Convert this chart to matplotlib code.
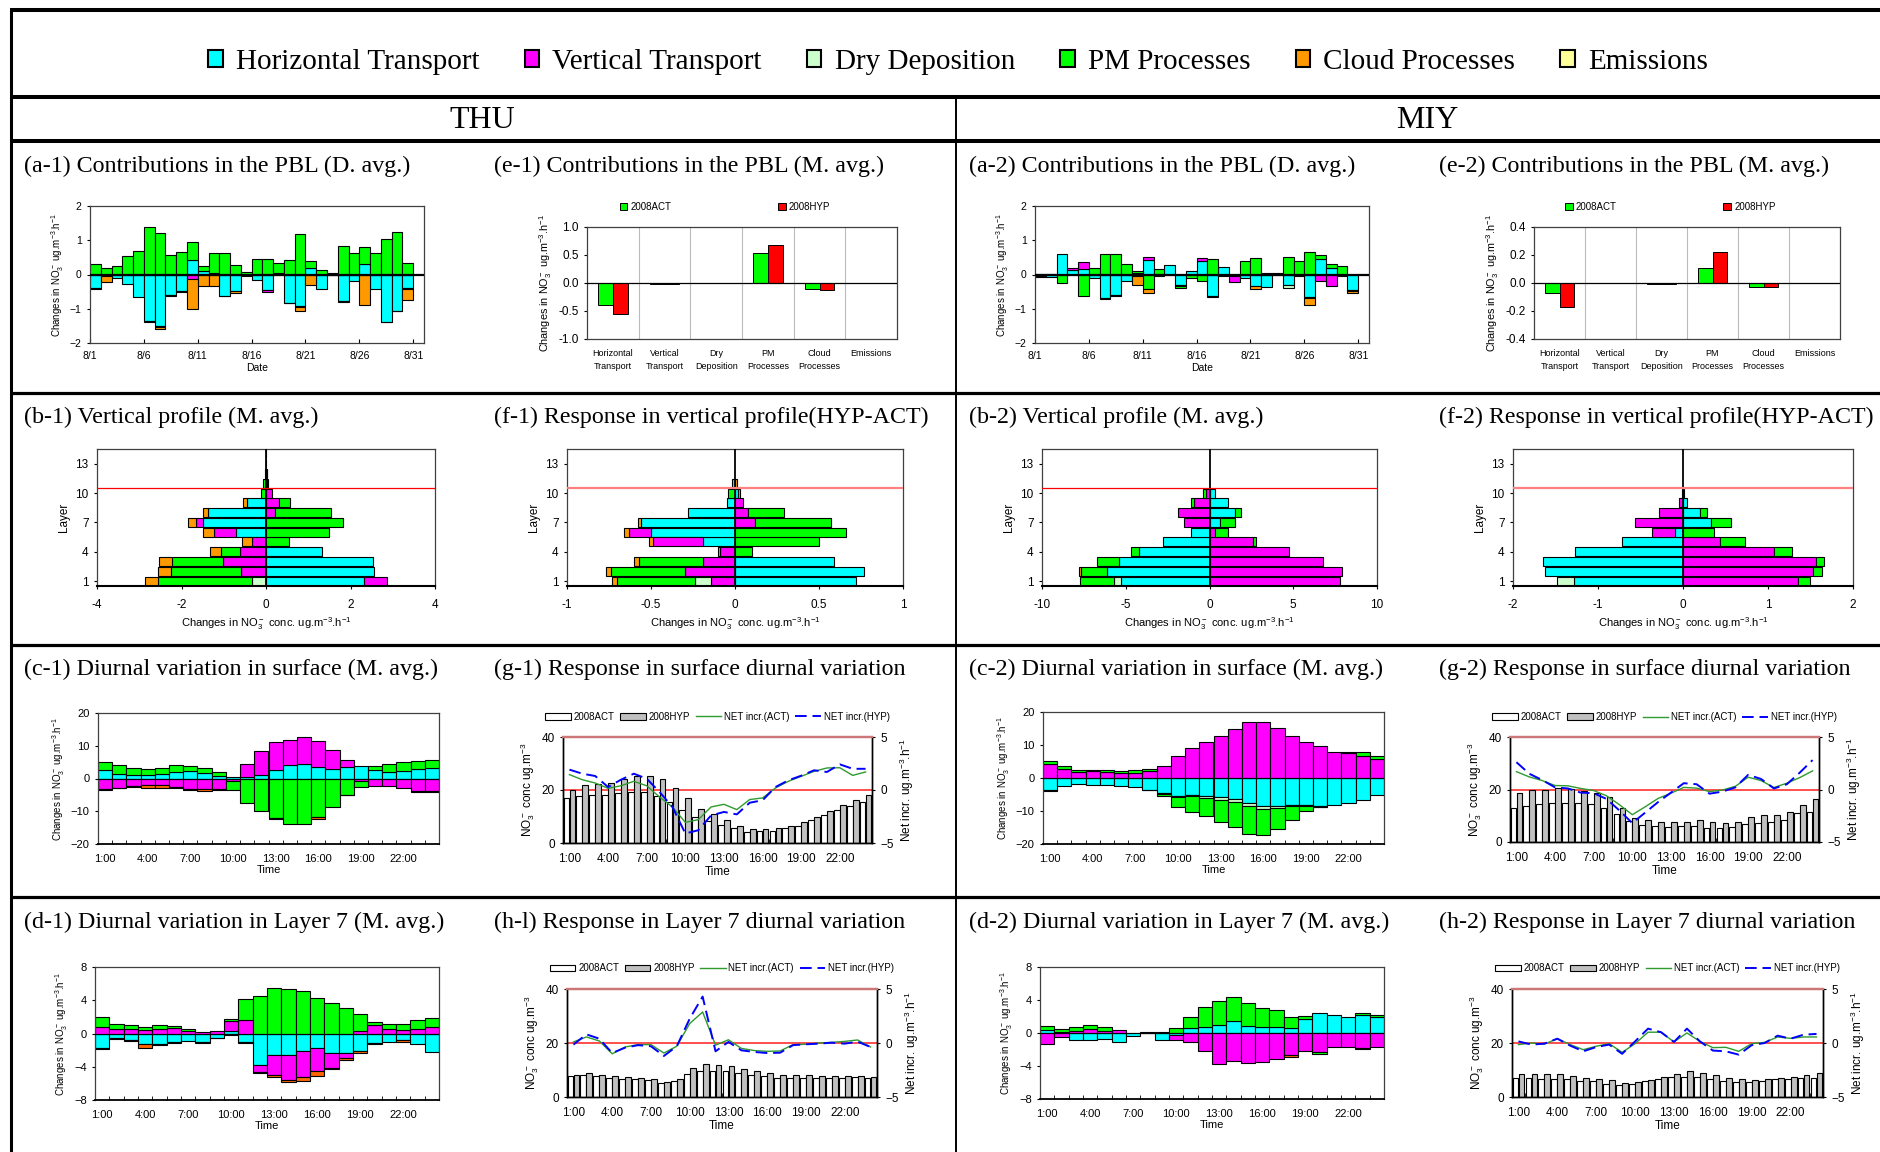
import numpy as np
import matplotlib
matplotlib.use('Agg')
import matplotlib.pyplot as plt
import matplotlib.patches as mpatches
from matplotlib.lines import Line2D
from matplotlib.ticker import FuncFormatter

plt.rcParams['font.family'] = ['Liberation Sans', 'DejaVu Sans']
plt.rcParams['mathtext.default'] = 'regular'
SERIF = 'Liberation Serif'

# ---------------- data ----------------
process_names = ['Horizontal Transport', 'Vertical Transport', 'Dry Deposition',
                 'PM Processes', 'Cloud Processes', 'Emissions']
process_ticks = ['Horizontal\nTransport', 'Vertical\nTransport', 'Dry\nDeposition',
                 'PM\nProcesses', 'Cloud\nProcesses', 'Emissions\n ']
day_labels = ['8/1', '8/6', '8/11', '8/16', '8/21', '8/26', '8/31']
hour_labels = ['1:00', '4:00', '7:00', '10:00', '13:00', '16:00', '19:00', '22:00']

# (a-1) THU daily PBL contributions, 8/1 .. 8/30
a1_hor = [-0.40, -0.03, -0.10, -0.27, -0.65, -1.37, -1.50, -0.60, -0.47, 0.43, 0.10, 0.03, -0.62, -0.48, -0.03,
          -0.15, -0.45, 0.05, -0.82, -0.92, 0.20, -0.42, -0.02, -0.76, -0.18, 0.30, -0.42, -1.38, -1.06, -0.38]
a1_vert = [0, 0, 0, 0, 0, 0, 0, 0, -0.04, -0.12, 0, 0, 0, 0, 0,
           0, -0.05, 0, 0, -0.04, 0, 0, 0, 0, 0, 0, 0, 0, 0, -0.05]
a1_dry = [-0.02, 0, 0, 0, 0, -0.03, -0.02, -0.02, 0, 0, 0, 0, -0.02, 0, 0,
          0, 0, 0, -0.02, 0, 0, 0, 0, -0.05, 0, 0, 0, -0.02, -0.02, 0]
a1_pm = [0.32, 0.18, 0.26, 0.53, 0.68, 1.40, 1.22, 0.58, 0.67, 0.53, 0.14, 0.61, 0.62, 0.28, 0.08,
         0.45, 0.45, 0.30, 0.43, 1.17, 0.18, 0.12, 0.04, 0.84, 0.64, 0.50, 0.64, 1.05, 1.23, 0.35]
a1_cld = [0, -0.19, 0, 0, 0, 0, -0.06, 0, 0, -0.88, -0.35, -0.35, 0, -0.06, 0,
          0, 0, 0, 0, -0.10, -0.30, 0, 0, 0, 0, -0.88, 0, 0, 0, -0.30]

# (a-2) MIY daily PBL contributions
a2_hor = [-0.04, -0.08, 0.60, 0.13, 0.15, -0.10, -0.68, -0.60, -0.20, -0.05, 0.42, 0.02, 0.28, -0.32, 0.10,
          0.38, -0.62, 0.22, -0.05, -0.10, -0.35, -0.37, 0.05, -0.30, -0.05, -0.65, 0.45, 0.20, -0.05, -0.45]
a2_vert = [0, 0, 0, 0.05, 0.22, 0, 0, 0, 0, 0.05, 0.08, 0, 0, 0, 0,
           0.10, 0, -0.05, -0.18, 0, 0, 0, 0, 0, 0, 0, -0.20, -0.33, 0, 0]
a2_dry = [-0.02, 0, -0.02, 0, 0, 0, -0.04, -0.02, 0, 0, 0, 0, 0, -0.03, 0,
          0, -0.03, 0, 0, 0, 0, 0, 0, -0.10, 0, -0.05, 0, 0, 0, -0.03]
a2_pm = [0.02, 0.02, -0.22, 0, -0.62, 0.20, 0.60, 0.60, 0.30, 0.05, -0.42, 0.15, 0, -0.05, -0.10,
         -0.20, 0.45, 0, 0, 0.38, 0.48, 0.05, 0, 0.50, 0.38, 0.65, 0.13, 0.10, 0.25, 0]
a2_cld = [0, 0, 0, 0, 0, 0, 0, 0, 0, -0.25, -0.13, -0.05, 0, 0, 0,
          0, 0, 0, 0, 0, -0.07, 0, 0, 0, 0, -0.20, 0, 0, 0, -0.05]

# (e) monthly PBL contributions per process
e1_act = [-0.40, -0.02, 0.0, 0.54, -0.10, 0.0]
e1_hyp = [-0.55, -0.02, 0.0, 0.68, -0.12, 0.0]
e2_act = [-0.07, 0.0, -0.005, 0.11, -0.03, 0.0]
e2_hyp = [-0.17, 0.0, -0.005, 0.22, -0.03, 0.0]

# (b) vertical profiles, layers 1..14
b1_hor = [2.33, 2.55, 2.53, 1.33, 0, -0.70, -1.50, -1.37, -0.45, 0, 0, 0, 0, 0]
b1_vert = [0.54, -0.60, -1.02, -0.61, -0.33, -0.54, -0.15, 0.22, 0.30, 0.14, 0.03, 0.02, 0.01, 0.01]
b1_dry = [-0.33, 0, 0, 0, 0, 0, 0, 0, 0, 0, 0, 0, 0, 0]
b1_pm = [-2.23, -1.65, -1.20, -0.45, 0.55, 1.48, 1.83, 1.31, 0.26, -0.13, -0.07, -0.03, 0, 0]
b1_cld = [-0.31, -0.30, -0.31, -0.27, -0.23, -0.24, -0.20, -0.13, -0.09, 0, 0.02, 0.01, 0, 0]

b2_hor = [-5.26, -6.14, -5.40, -4.20, -2.80, -1.10, 0.60, 1.50, 1.10, 0.35, 0, 0, 0, 0]
b2_vert = [7.79, 7.90, 6.80, 4.74, 2.60, 0.30, -1.50, -1.90, -0.90, -0.20, 0, 0, 0, 0]
b2_dry = [-0.46, 0, 0, 0, 0, 0, 0, 0, 0, 0, 0, 0, 0, 0]
b2_pm = [-2.00, -1.56, -1.30, -0.50, 0.20, 0.80, 0.90, 0.40, -0.20, -0.20, 0, 0, 0, 0]
b2_cld = [0, -0.10, 0, 0, 0, 0, 0, 0, 0, 0, 0, 0, 0, 0]

# (f) response in vertical profile (HYP-ACT)
f1_hor = [0.72, 0.77, 0.59, 0, -0.19, -0.50, -0.56, -0.28, -0.05, 0.02, -0.02, 0, 0, 0]
f1_vert = [-0.14, -0.30, -0.19, -0.09, -0.30, -0.13, 0.12, 0.08, 0.05, 0, 0, 0, 0, 0]
f1_dry = [-0.10, 0, 0, 0, 0, 0, 0, 0, 0, 0, 0, 0, 0, 0]
f1_pm = [-0.46, -0.44, -0.38, 0.10, 0.50, 0.66, 0.45, 0.21, 0, -0.04, 0, 0, 0, 0]
f1_cld = [-0.03, -0.03, -0.03, -0.01, -0.02, -0.03, -0.02, 0, 0, 0.01, 0.01, 0, 0, 0]

f2_hor = [-1.28, -1.62, -1.65, -1.27, -0.72, -0.09, 0.33, 0.20, 0.05, 0.01, 0, 0, 0, 0]
f2_vert = [1.35, 1.53, 1.57, 1.07, 0.44, -0.27, -0.56, -0.28, -0.05, -0.01, 0, 0, 0, 0]
f2_dry = [-0.20, 0, 0, 0, 0, 0, 0, 0, 0, 0, 0, 0, 0, 0]
f2_pm = [0.14, 0.10, 0.09, 0.21, 0.29, 0.37, 0.23, 0.08, 0, 0, 0, 0, 0, 0]

# (c) surface diurnal variation, hours 1..24
c1_hor = [2.6, 1.5, 1.2, 1.2, 1.5, 2.0, 2.3, 1.6, 0.8, 0.5, 0.5, 1.2,
          2.7, 4.1, 4.4, 3.5, 2.8, 3.5, 3.8, 2.6, 2.0, 2.4, 2.9, 3.2]
c1_vert = [-3.3, -2.9, -2.4, -2.1, -2.1, -2.6, -3.1, -3.1, -3.1, -0.8, 4.0, 7.2,
           8.5, 7.8, 8.4, 8.1, 6.0, 2.2, -0.7, -2.4, -2.4, -2.9, -3.9, -3.8]
c1_pm = [2.4, 2.5, 2.0, 1.6, 1.8, 2.0, 1.6, 1.7, 1.1, -2.7, -7.4, -10.0,
         -12.0, -13.8, -13.8, -11.7, -8.8, -5.0, -1.8, 1.3, 2.5, 2.6, 2.4, 2.4]
c1_cld = [-0.2, -0.1, -0.1, -0.7, -0.9, -0.3, -0.3, -0.6, -0.3, 0, 0, 0,
          -0.4, 0, 0, -0.8, 0, -0.1, 0, 0, 0, 0, -0.1, -0.2]

c2_hor = [-3.5, -2.4, -1.9, -2.1, -2.1, -2.4, -2.8, -3.5, -4.6, -5.6, -5.0, -5.5,
          -5.8, -6.5, -7.7, -8.6, -8.4, -8.1, -8.2, -8.5, -8.3, -7.6, -6.7, -5.0]
c2_vert = [4.2, 2.7, 1.8, 2.0, 1.9, 1.4, 1.6, 2.0, 3.6, 6.7, 9.0, 10.9,
           12.8, 15.0, 17.1, 17.1, 15.1, 12.6, 11.0, 9.7, 8.0, 7.5, 6.7, 5.8]
c2_dry = [-0.3, 0, 0, 0, 0, 0, 0, -0.1, -0.3, -0.3, -0.6, -0.6,
          -0.9, -0.9, -0.9, -0.9, -0.8, -0.5, -0.3, -0.2, 0, 0, 0, 0]
c2_pm = [1.1, 0.9, 0.7, 0.5, 0.5, 0.7, 0.8, 0.6, -0.6, -2.9, -4.7, -5.4,
         -6.5, -7.3, -8.4, -7.8, -6.2, -4.2, -1.5, -0.2, 0, 0.5, 1.1, 1.0]

# (d) Layer 7 diurnal variation
d1_hor = [-1.8, -0.6, -0.8, -1.3, -1.3, -1.0, -0.9, -1.0, -0.5, 0.3, -1.0, -3.8,
          -2.6, -2.6, -2.1, -1.7, -2.4, -2.3, -2.1, -1.1, -1.0, -0.8, -1.3, -2.2]
d1_vert = [0.8, 0.6, 0.5, 0.4, 0.5, 0.7, 0.3, 0.2, 0.25, 1.2, 1.6, -0.8,
           -2.4, -3.0, -3.1, -2.8, -1.7, -0.6, 0.3, 1.0, 0.5, 0.4, 0.6, 0.8]
d1_pm = [1.2, 0.6, 0.5, 0.4, 0.5, 0.2, 0.3, 0, 0, 0.3, 2.5, 4.5,
         5.5, 5.4, 5.1, 4.3, 3.7, 3.1, 2.0, 0.4, 0.6, 0.8, 1.0, 1.1]
d1_cld = [-0.1, -0.1, -0.1, -0.4, -0.1, -0.1, 0, -0.1, -0.1, -0.15, -0.2, -0.15,
          -0.2, -0.2, -0.5, -0.6, -0.2, -0.3, -0.3, -0.2, 0, -0.2, 0, 0]

d2_hor = [0.4, 0.1, -0.9, -0.8, -0.7, -1.1, -0.4, 0.05, -0.9, -0.3, 0.6, 0.7,
          1.0, 1.5, 0.9, 0.7, 0.7, 0.6, 1.7, 2.4, 2.2, 2.0, 2.2, 2.0]
d2_vert = [-1.3, -0.5, 0.3, 0.5, 0.3, 0.4, 0, 0, 0, -0.5, -1.1, -2.2,
           -3.8, -3.4, -3.6, -3.5, -3.2, -2.7, -2.2, -2.3, -1.7, -1.7, -1.8, -1.7]
d2_pm = [0.5, 0.4, 0.4, 0.5, 0.4, 0, 0, 0.05, 0.1, 0.6, 1.4, 2.4,
         2.9, 2.9, 2.7, 2.3, 2.1, 1.4, 0.4, -0.2, 0, 0, 0.2, 0.2]
d2_cld = [0, 0, 0, 0, 0, 0, 0, 0, 0, 0, 0, 0,
          0, 0, 0, 0, 0, -0.2, 0, 0, 0, 0, -0.1, 0]

# (g) surface concentration (bars) and net increase (lines)
g1_act = [17.1, 17.6, 18.0, 18.1, 18.8, 19.3, 19.3, 17.9, 15.4, 12.5, 9.8, 8.4,
          6.8, 5.5, 4.3, 4.4, 4.5, 5.5, 6.6, 8.5, 10.7, 12.3, 13.8, 15.3]
g1_hyp = [20.1, 21.8, 22.4, 22.8, 24.0, 25.1, 25.3, 24.1, 20.7, 16.9, 13.0, 10.8,
          8.5, 6.5, 5.4, 5.3, 5.6, 6.6, 8.0, 9.9, 12.0, 14.2, 16.1, 18.0]
g1_net_act = [1.45, 0.97, 0.66, 0.16, 0.40, 0.82, 0.40, -0.66, -1.60, -3.05, -2.80, -1.60,
              -1.35, -1.85, -0.90, -0.75, 0.19, 0.82, 1.29, 1.76, 2.08, 2.10, 1.38, 1.70]
g1_net_hyp = [1.92, 1.54, 1.32, 0.28, 0.97, 1.54, 1.07, -0.19, -1.60, -4.10, -3.80, -2.40,
              -2.07, -2.30, -1.20, -0.97, 0.28, 0.91, 1.35, 1.86, 1.70, 2.42, 2.00, 2.00]

g2_act = [13.0, 13.8, 14.3, 14.8, 14.8, 14.8, 14.3, 13.0, 10.5, 8.0, 6.5, 6.0,
          5.8, 6.0, 6.0, 5.5, 5.5, 5.8, 6.9, 7.2, 7.5, 8.2, 11.2, 11.5]
g2_hyp = [18.5, 20.0, 20.0, 20.5, 20.3, 19.5, 18.5, 17.2, 13.0, 9.0, 8.4, 7.6,
          7.6, 7.8, 8.2, 7.5, 7.2, 7.8, 9.4, 10.2, 10.2, 11.6, 14.0, 16.5]
g2_net_act = [1.70, 1.20, 0.85, 0.38, 0.35, 0.10, -0.10, -0.60, -1.45, -2.40, -1.65, -0.85,
              -0.35, 0.20, 0.13, -0.20, -0.05, 0.30, 1.17, 0.85, 0.19, 0.60, 1.13, 1.77]
g2_net_hyp = [2.60, 1.50, 0.90, 0.20, 0.10, -0.30, -0.35, -0.90, -2.00, -3.20, -2.20, -1.20,
              -0.30, 0.60, 0.50, -0.40, -0.20, 0.20, 1.40, 1.00, 0.10, 0.50, 1.60, 2.80]

# (h) Layer 7 concentration and net increase
h1_act = [7.7, 8.0, 7.6, 7.0, 6.8, 6.6, 6.3, 5.3, 6.0, 8.5, 9.5, 9.8,
          9.8, 9.0, 8.1, 7.7, 7.2, 7.0, 7.0, 7.0, 7.1, 7.1, 7.3, 7.0]
h1_hyp = [8.0, 8.8, 8.2, 7.6, 7.3, 7.1, 6.6, 5.5, 6.6, 10.6, 12.1, 11.7,
          11.3, 10.5, 9.5, 9.0, 8.0, 8.0, 8.0, 7.8, 7.8, 7.8, 7.8, 7.3]
h1_net_act = [0.10, 0.56, 0.19, -1.00, -0.37, -0.15, -0.15, -0.93, -0.30, 1.80, 2.87, -0.20,
              0.30, -0.50, -0.70, -0.77, -0.74, -0.15, -0.12, 0.00, 0.06, 0.15, 0.28, -0.37]
h1_net_hyp = [-0.15, 0.80, 0.40, -0.93, -0.43, -0.20, -0.30, -1.20, -0.30, 2.25, 4.30, -0.77,
              0.10, -0.68, -0.83, -0.93, -0.90, -0.20, -0.12, -0.06, 0.03, -0.06, 0.12, -0.37]

h2_act = [7.0, 7.0, 6.8, 6.8, 6.5, 5.8, 5.8, 5.0, 4.3, 5.0, 5.8, 6.8,
          7.3, 7.5, 7.5, 6.5, 5.8, 5.5, 5.5, 6.0, 6.5, 6.8, 7.0, 7.0]
h2_hyp = [8.5, 8.4, 8.5, 8.5, 7.8, 7.0, 6.5, 6.3, 5.1, 5.5, 6.3, 7.3,
          8.5, 9.5, 9.0, 8.0, 7.0, 6.5, 6.3, 6.8, 7.0, 7.3, 8.2, 8.8]
h2_net_act = [-0.15, 0.00, -0.10, 0.40, -0.15, -0.62, -0.30, -0.06, -0.87, -0.06, 1.00, 1.00,
              0.10, 0.93, 0.15, -0.43, -0.40, -0.77, -0.06, 0.06, 0.56, 0.43, 0.56, 0.56]
h2_net_hyp = [0.15, -0.15, -0.06, 0.40, -0.25, -0.77, -0.37, -0.15, -1.00, 0.15, 1.33, 1.00,
              0.10, 1.33, 0.15, -0.70, -0.77, -1.08, -0.20, 0.00, 0.68, 0.40, 0.77, 0.84]

# ---------------- style ----------------
HOR, VERT, DRY, PM, CLD, EMI = '#00FFFF', '#FF00FF', '#CCFFCC', '#00FF00', '#FF9900', '#FFFF99'
CLD_D = '#FF6600'
FRAME = '#404040'
NO3_RATE = 'Changes in NO$_3^-$ ug.m$^{-3}$.h$^{-1}$'
NO3_CONC = 'Changes in NO$_3^-$ conc. ug.m$^{-3}$.h$^{-1}$'

W, H = 1880, 1152
fig = plt.figure(figsize=(W / 100, H / 100), dpi=100)


def box(x0, y0, x1, y1):
    return [x0 / W, 1 - y1 / H, (x1 - x0) / W, (y1 - y0) / H]


def fline(x0, y0, x1, y1, lw):
    fig.add_artist(Line2D([x0 / W, x1 / W], [1 - y0 / H, 1 - y1 / H], color='black',
                          lw=lw, transform=fig.transFigure, solid_capstyle='butt'))


def frame(ax, lw=0.9):
    for s in ax.spines.values():
        s.set_color(FRAME)
        s.set_linewidth(lw)


def stack_bars(ax, pos, layers, width, horiz=False):
    pos = np.asarray(pos, float)
    up = np.zeros(len(pos))
    dn = np.zeros(len(pos))
    for vals, col in layers:
        v = np.asarray(vals, float)
        for base, m in ((up, v > 0), (dn, v < 0)):
            if not m.any():
                continue
            if horiz:
                ax.barh(pos[m], v[m], height=width, left=base[m], color=col,
                        edgecolor='black', linewidth=0.8, zorder=2)
            else:
                ax.bar(pos[m], v[m], width=width, bottom=base[m], color=col,
                       edgecolor='black', linewidth=0.8, zorder=2)
            base[m] += v[m]


def daily_panel(ax, layers):
    x = np.arange(len(layers[0][0])) + 0.5
    stack_bars(ax, x, layers, 1.0)
    ax.axhline(0, color='black', lw=1.6, zorder=3)
    ax.set_xlim(0, 31)
    ax.set_ylim(-2, 2)
    ax.set_xticks(np.arange(0, 31, 5))
    ax.set_xticklabels(day_labels)
    ax.set_yticks([-2, -1, 0, 1, 2])
    ax.tick_params(labelsize=7.5, length=2.5)
    ax.tick_params(axis='x', direction='in', length=3, pad=6)
    ax.set_xlabel('Date', fontsize=7.5, labelpad=1)
    ax.set_ylabel(NO3_RATE, fontsize=7, labelpad=3)
    frame(ax)


def monthly_panel(ax, act, hyp, lim, step):
    x = np.arange(6)
    ax.bar(x - 0.145, act, 0.29, color='#00FF00', edgecolor='black', lw=0.7, zorder=2)
    ax.bar(x + 0.145, hyp, 0.29, color='#FF0000', edgecolor='black', lw=0.7, zorder=2)
    for b in np.arange(0.5, 5.5, 1):
        ax.axvline(b, color='#BBBBBB', lw=0.8, zorder=1)
    ax.axhline(0, color='black', lw=0.9, zorder=3)
    ax.set_xlim(-0.5, 5.5)
    ax.set_ylim(-lim, lim)
    ax.set_yticks(np.arange(-lim, lim + 1e-9, step))
    ax.yaxis.set_major_formatter(FuncFormatter(lambda v, _: f'{v:.1f}'))
    ax.set_xticks(x)
    ax.set_xticklabels(process_ticks, fontsize=6.5, linespacing=1.6)
    ax.tick_params(axis='x', length=0, pad=7)
    ax.tick_params(axis='y', labelsize=8.5, length=2.5)
    ax.set_ylabel(NO3_RATE, fontsize=7.8, labelpad=3)
    hs = [mpatches.Patch(facecolor='#00FF00', edgecolor='black', lw=0.7),
          mpatches.Patch(facecolor='#FF0000', edgecolor='black', lw=0.7)]
    ax.legend(hs, ['2008ACT', '2008HYP'], ncol=2, loc='center', bbox_to_anchor=(0.445, 1.18),
              frameon=False, fontsize=7, columnspacing=11, handlelength=0.8, handleheight=0.8,
              handletextpad=0.3, borderpad=0)
    frame(ax)


def profile_panel(ax, layers, lim, step, redcol, redlw):
    y = np.arange(1, 15)
    stack_bars(ax, y, layers, 0.92, horiz=True)
    ax.axvline(0, color='black', lw=1.3, zorder=3)
    ax.axhline(10.5, color=redcol, lw=redlw, zorder=3)
    ax.set_ylim(0.5, 14.5)
    ax.set_xlim(-lim, lim)
    ax.set_yticks([1, 4, 7, 10, 13])
    ax.set_xticks(np.arange(-lim, lim + 1e-9, step))
    ax.xaxis.set_major_formatter(FuncFormatter(lambda v, _: f'{v:g}'))
    ax.tick_params(labelsize=8.5, length=2.5)
    ax.tick_params(axis='x', pad=7)
    ax.set_xlabel(NO3_CONC, fontsize=8, labelpad=3)
    ax.set_ylabel('Layer', fontsize=8.5, labelpad=4)
    frame(ax)
    ax.spines['bottom'].set_color('black')
    ax.spines['bottom'].set_linewidth(1.5)


def hour_axis(ax, fs=8, pad=7):
    ax.set_xlim(0.5, 24.5)
    ax.set_xticks([1, 4, 7, 10, 13, 16, 19, 22])
    ax.set_xticklabels(hour_labels)
    ax.set_xticks(np.arange(0.5, 25, 1), minor=True)
    ax.tick_params(axis='x', which='major', length=0, labelsize=fs, pad=pad)
    ax.tick_params(axis='x', which='minor', direction='in', length=3, color='black')
    ax.set_xlabel('Time', fontsize=fs, labelpad=1)


def diurnal_panel(ax, layers, lim, step):
    x = np.arange(1, 25)
    stack_bars(ax, x, layers, 1.0)
    ax.axhline(0, color='black', lw=0.8, zorder=3)
    ax.set_ylim(-lim, lim)
    ax.set_yticks(np.arange(-lim, lim + 1e-9, step))
    ax.tick_params(axis='y', labelsize=8, length=2.5)
    hour_axis(ax, 8, 7)
    ax.set_ylabel(NO3_RATE, fontsize=7, labelpad=3)
    frame(ax)
    ax.spines['bottom'].set_color('black')
    ax.spines['bottom'].set_linewidth(1.3)


def response_panel(ax, act, hyp, net_act, net_hyp):
    x = np.arange(1, 25)
    ax.bar(x - 0.23, act, 0.45, color='white', edgecolor='black', lw=0.8, zorder=2)
    ax.bar(x + 0.23, hyp, 0.45, color='#C0C0C0', edgecolor='black', lw=0.8, zorder=2)
    ax.axhline(20, color='#FF3030', lw=1.2, zorder=1)
    ax.set_ylim(0, 40)
    ax.set_yticks([0, 20, 40])
    ax.tick_params(axis='y', labelsize=8.5, length=2.5)
    hour_axis(ax, 8.5, 7)
    ax.set_ylabel('NO$_3^-$ conc ug.m$^{-3}$', fontsize=8.5, labelpad=3)
    ax2 = ax.twinx()
    ax2.plot(x, net_act, color='#2E9B2E', lw=1.0)
    ax2.plot(x, net_hyp, color='#0000FF', lw=1.4, dashes=(6, 3))
    ax2.set_ylim(-5, 5)
    ax2.set_yticks([-5, 0, 5])
    ax2.tick_params(axis='y', labelsize=8.5, length=2.5)
    ax2.set_ylabel('Net incr. ug.m$^{-3}$.h$^{-1}$', fontsize=8.5, labelpad=3)
    for a in (ax, ax2):
        for s in a.spines.values():
            s.set_color('black')
            s.set_linewidth(1.0)
        a.spines['top'].set_color('#CC7777')
        a.spines['top'].set_linewidth(1.6)
    hs = [mpatches.Patch(facecolor='white', edgecolor='black', lw=0.8),
          mpatches.Patch(facecolor='#C0C0C0', edgecolor='black', lw=0.8),
          Line2D([], [], color='#2E9B2E', lw=1.0),
          Line2D([], [], color='#0000FF', lw=1.4, dashes=(6, 3))]
    ax2.legend(hs, ['2008ACT', '2008HYP', 'NET incr.(ACT)', 'NET incr.(HYP)'], ncol=4,
               loc='center', bbox_to_anchor=(0.5, 1.19), frameon=False, fontsize=7,
               handlelength=2.6, handleheight=0.7, handletextpad=0.3, columnspacing=0.6,
               borderpad=0)


# ---------------- frame lines and headers ----------------
fline(10, 10, W, 10, 2.9)
fline(11, 10, 11, H, 2.2)
fline(10, 97, W, 97, 2.9)
fline(10, 141, W, 141, 2.9)
for yy in (393, 645, 897):
    fline(10, yy, W, yy, 2.3)
fline(956, 97, 956, H, 1.4)

colors = [HOR, VERT, DRY, PM, CLD, EMI]
handles = [mpatches.Patch(facecolor=c, edgecolor='black', lw=1.5) for c in colors]
fig.legend(handles, process_names, ncol=6, loc='center', bbox_to_anchor=(958 / W, 1 - 62 / H),
           frameon=False, prop={'family': SERIF, 'size': 21}, handlelength=0.5,
           handleheight=0.55, handletextpad=0.45, columnspacing=1.55, borderpad=0)

fig.text(482 / W, 1 - 120 / H, 'THU', family=SERIF, fontsize=23, ha='center', va='center')
fig.text(1427 / W, 1 - 120 / H, 'MIY', family=SERIF, fontsize=23, ha='center', va='center')

titles = [
    ['(a-1) Contributions in the PBL (D. avg.)', '(e-1) Contributions in the PBL (M. avg.)',
     '(a-2) Contributions in the PBL (D. avg.)', '(e-2) Contributions in the PBL (M. avg.)'],
    ['(b-1) Vertical profile (M. avg.)', '(f-1) Response in vertical profile(HYP-ACT)',
     '(b-2) Vertical profile (M. avg.)', '(f-2) Response in vertical profile(HYP-ACT)'],
    ['(c-1) Diurnal variation in surface (M. avg.)', '(g-1) Response in surface diurnal variation',
     '(c-2) Diurnal variation in surface (M. avg.)', '(g-2) Response in surface diurnal variation'],
    ['(d-1) Diurnal variation in Layer 7 (M. avg.)', '(h-l) Response in Layer 7 diurnal variation',
     '(d-2) Diurnal variation in Layer 7 (M. avg.)', '(h-2) Response in Layer 7 diurnal variation'],
]
title_x = [24, 494, 969, 1439]
title_y = [166, 417, 669, 922]
for row, ty in zip(titles, title_y):
    for txt, tx in zip(row, title_x):
        fig.text(tx / W, 1 - ty / H, txt, family=SERIF, fontsize=17.3, ha='left', va='center')

# ---------------- panels ----------------
ax = fig.add_axes(box(90, 206, 424, 343))
daily_panel(ax, [(a1_hor, HOR), (a1_vert, VERT), (a1_dry, DRY), (a1_pm, PM), (a1_cld, CLD)])
ax = fig.add_axes(box(1035, 206, 1369, 343))
daily_panel(ax, [(a2_hor, HOR), (a2_vert, VERT), (a2_dry, DRY), (a2_pm, PM), (a2_cld, CLD)])

ax = fig.add_axes(box(587, 227, 897, 339))
monthly_panel(ax, e1_act, e1_hyp, 1.0, 0.5)
ax = fig.add_axes(box(1534, 227, 1840, 339))
monthly_panel(ax, e2_act, e2_hyp, 0.4, 0.2)

ax = fig.add_axes(box(97, 449, 435, 586))
profile_panel(ax, [(b1_hor, HOR), (b1_vert, VERT), (b1_dry, DRY), (b1_pm, PM), (b1_cld, CLD)],
              4, 2, '#FF0000', 0.9)
ax = fig.add_axes(box(567, 449, 903, 586))
profile_panel(ax, [(f1_hor, HOR), (f1_vert, VERT), (f1_dry, DRY), (f1_pm, PM), (f1_cld, CLD)],
              1, 0.5, '#FF8080', 1.6)
ax = fig.add_axes(box(1042, 449, 1377, 586))
profile_panel(ax, [(b2_hor, HOR), (b2_vert, VERT), (b2_dry, DRY), (b2_pm, PM), (b2_cld, CLD)],
              10, 5, '#FF0000', 0.9)
ax = fig.add_axes(box(1513, 449, 1853, 586))
profile_panel(ax, [(f2_hor, HOR), (f2_vert, VERT), (f2_dry, DRY), (f2_pm, PM)],
              2, 1, '#FF8080', 1.6)

ax = fig.add_axes(box(98, 713, 439, 844))
diurnal_panel(ax, [(c1_hor, HOR), (c1_vert, VERT), (c1_pm, PM), (c1_cld, CLD_D)], 20, 10)
ax = fig.add_axes(box(1043, 712, 1384, 844))
diurnal_panel(ax, [(c2_hor, HOR), (c2_vert, VERT), (c2_dry, DRY), (c2_pm, PM)], 20, 10)
ax = fig.add_axes(box(95, 967, 439, 1100))
diurnal_panel(ax, [(d1_hor, HOR), (d1_vert, VERT), (d1_pm, PM), (d1_cld, CLD_D)], 8, 4)
ax = fig.add_axes(box(1040, 967, 1384, 1099))
diurnal_panel(ax, [(d2_hor, HOR), (d2_vert, VERT), (d2_pm, PM), (d2_cld, CLD_D)], 8, 4)

ax = fig.add_axes(box(563, 737, 872, 843))
response_panel(ax, g1_act, g1_hyp, g1_net_act, g1_net_hyp)
ax = fig.add_axes(box(1510, 737, 1819, 842))
response_panel(ax, g2_act, g2_hyp, g2_net_act, g2_net_hyp)
ax = fig.add_axes(box(567, 989, 877, 1097))
response_panel(ax, h1_act, h1_hyp, h1_net_act, h1_net_hyp)
ax = fig.add_axes(box(1512, 989, 1823, 1097))
response_panel(ax, h2_act, h2_hyp, h2_net_act, h2_net_hyp)

fig.savefig('out.png', dpi=100)
